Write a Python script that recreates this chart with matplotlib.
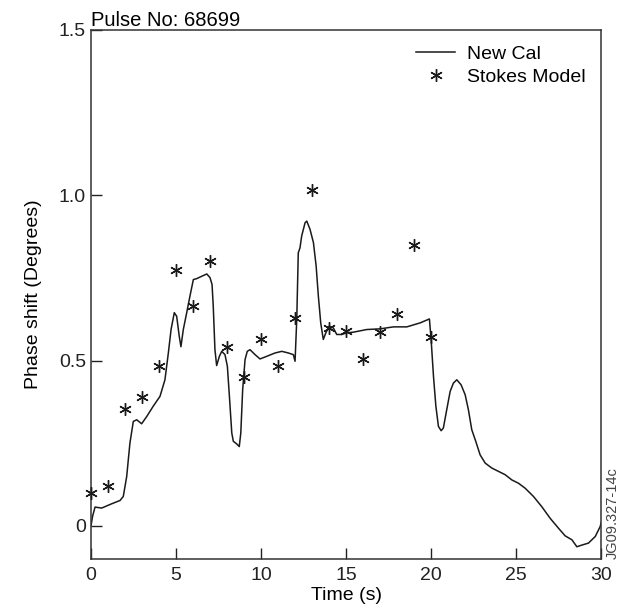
import matplotlib
matplotlib.use("Agg")
import matplotlib.pyplot as plt

plt.rcParams['font.family'] = ['Liberation Sans', 'DejaVu Sans']

# ~~~ data ~~~
# New Cal trace (time in s, phase shift in degrees)
cal_t = [0.0, 0.10, 0.24, 0.63, 1.22, 1.71, 1.90, 2.10, 2.29, 2.49, 2.69, 2.98,
         3.28, 3.66, 4.06, 4.35, 4.55, 4.71, 4.90, 5.04, 5.19, 5.29, 5.43, 5.63,
         5.82, 6.02, 6.22, 6.51, 6.81, 7.00, 7.12, 7.19, 7.29, 7.39, 7.55, 7.69,
         7.88, 8.02, 8.14, 8.28, 8.37, 8.57, 8.72, 8.81, 8.92, 9.06, 9.19, 9.35,
         9.65, 9.94, 10.24, 10.82, 11.22, 11.61, 11.90, 12.00, 12.10, 12.19,
         12.29, 12.39, 12.59, 12.69, 12.88, 13.08, 13.24, 13.37, 13.51, 13.66,
         13.81, 14.00, 14.25, 14.45, 14.75, 15.04, 15.43, 16.22, 17.00, 17.78,
         18.57, 19.35, 19.90, 20.00, 20.14, 20.28, 20.43, 20.59, 20.72, 20.92,
         21.12, 21.31, 21.51, 21.76, 22.00, 22.19, 22.39, 22.63, 22.88, 23.18,
         23.57, 23.96, 24.35, 24.75, 25.14, 25.53, 26.02, 26.51, 27.00, 27.49,
         27.88, 28.28, 28.57, 28.86, 29.25, 29.65, 29.94, 30.0]
cal_y = [0.0, 0.03, 0.057, 0.054, 0.067, 0.077, 0.089, 0.149, 0.25, 0.316,
         0.321, 0.309, 0.331, 0.362, 0.392, 0.442, 0.523, 0.594, 0.645, 0.634,
         0.574, 0.542, 0.594, 0.645, 0.695, 0.745, 0.748, 0.755, 0.762, 0.751,
         0.730, 0.665, 0.533, 0.485, 0.513, 0.528, 0.518, 0.483, 0.392, 0.281,
         0.256, 0.248, 0.240, 0.281, 0.412, 0.503, 0.528, 0.533, 0.518, 0.505,
         0.511, 0.523, 0.528, 0.523, 0.518, 0.498, 0.624, 0.826, 0.841, 0.877,
         0.917, 0.922, 0.897, 0.857, 0.786, 0.695, 0.614, 0.564, 0.584, 0.604,
         0.599, 0.579, 0.579, 0.584, 0.586, 0.594, 0.596, 0.602, 0.602, 0.614,
         0.626, 0.564, 0.452, 0.362, 0.301, 0.288, 0.296, 0.352, 0.407, 0.432,
         0.442, 0.427, 0.397, 0.352, 0.291, 0.255, 0.215, 0.190, 0.175, 0.165,
         0.155, 0.139, 0.129, 0.114, 0.089, 0.058, 0.023, -0.007, -0.030,
         -0.042, -0.063, -0.058, -0.052, -0.032, -0.002, 0.01]

# Stokes model points, one per second
stokes_t = list(range(0, 21))
stokes_y = [0.10, 0.12, 0.355, 0.39, 0.485, 0.775, 0.665, 0.80, 0.54, 0.45,
            0.565, 0.485, 0.63, 1.015, 0.60, 0.59, 0.505, 0.585, 0.64, 0.85,
            0.57]

yticks = [0, 0.5, 1.0, 1.5]
ytick_labels = ['0', '0.5', '1.0', '1.5']
xticks = [0, 5, 10, 15, 20, 25, 30]

# ~~~ plot ~~~
fig = plt.figure(figsize=(6.23, 6.14), dpi=100)
ax = fig.add_axes([0.146, 0.0896, 0.819, 0.8616])

ax.plot(cal_t, cal_y, '-', color='#1a1a1a', lw=1.1, label='New Cal')
ax.plot(stokes_t, stokes_y, ls='none', marker=(6, 2, 0), ms=9, mew=1.0,
        color='#1a1a1a', label='Stokes Model', clip_on=False, zorder=3)

ax.set_xlim(0, 30)
ax.set_ylim(-0.1, 1.5)
ax.set_xticks(xticks)
ax.set_yticks(yticks)
ax.set_yticklabels(ytick_labels)
ax.tick_params(direction='in', length=8, width=1, labelsize=14,
               top=False, right=False, colors='#222222')
ax.tick_params(axis='x', pad=6)
for s in ax.spines.values():
    s.set_color('#333333')
    s.set_linewidth(1.1)

ax.set_xlabel('Time (s)', fontsize=14, labelpad=2)
ax.set_ylabel('Phase shift (Degrees)', fontsize=14, labelpad=12)
ax.set_title('Pulse No: 68699', loc='left', fontsize=14.5, pad=1)

ax.legend(loc='upper right', frameon=False, fontsize=14, handlelength=2.0,
          handletextpad=0.6, labelspacing=0.25, borderaxespad=0.4)

fig.text(0.984, 0.09, 'JG09.327-14c', rotation=90, fontsize=10.5,
         color='#444444', ha='center', va='bottom')

fig.savefig('out.png', dpi=100)
